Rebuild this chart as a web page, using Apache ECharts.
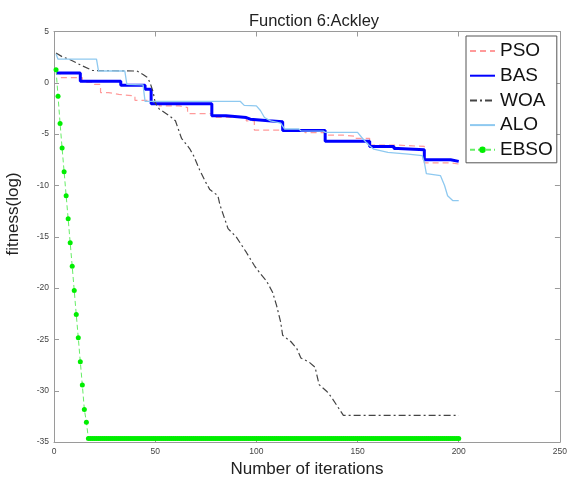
<!DOCTYPE html>
<html><head><meta charset="utf-8">
<script src="https://cdn.jsdelivr.net/npm/echarts/dist/echarts.min.js"></script>
<style>html,body{margin:0;padding:0;background:#fff}#c{width:570px;height:483px}</style>
</head><body><div id="c"></div>
<script>
// ---------- data ----------
const seriesNames = ['PSO', 'BAS', 'WOA', 'ALO', 'EBSO'];
const titleText = 'Function 6:Ackley';
const xName = 'Number of iterations';
const yName = 'fitness(log)';

const psoIter = [1, 3, 14, 20, 23, 27, 32, 40, 48, 52, 62, 66, 78, 95, 99, 124, 134, 143, 149, 156, 170, 183, 196, 200];
const psoFit  = [1.0, 0.5, 0.05, -0.15, -0.95, -1.12, -1.28, -1.7, -2.0, -2.25, -2.41, -3.0, -3.38, -3.7, -4.6, -4.85, -5.1, -5.2, -5.42, -6.07, -6.2, -7.8, -7.91, -7.91];

const basIter = [1, 13, 33, 45, 48, 78, 85, 95, 97, 106, 113, 134, 156, 168, 170, 183, 196, 200];
const basFit  = [0.95, 0.15, -0.24, -0.63, -2.05, -3.2, -3.38, -3.54, -3.7, -3.8, -4.65, -5.7, -6.2, -6.4, -6.52, -7.5, -7.65, -7.65];

const woaIter = [1, 4, 8, 14, 19, 41, 44, 46, 47, 48, 49, 50, 52, 57, 60, 63, 67, 69, 72, 75, 77, 81, 82, 86, 90, 95, 99, 102, 105, 108, 110, 112, 113, 117, 120, 122, 126, 129, 131, 135, 137, 140, 143, 200];
const woaFit  = [2.9, 2.55, 2.25, 1.65, 1.2, 1.15, 0.82, 0.55, 0.2, -0.3, -0.9, -1.95, -2.55, -3.2, -3.7, -5.4, -6.4, -7.1, -8.5, -9.7, -10.4, -11.0, -11.9, -14.2, -15.0, -16.5, -17.8, -18.6, -19.3, -20.4, -21.7, -23.3, -24.6, -25.2, -25.9, -26.8, -27.2, -27.7, -29.4, -30.1, -30.6, -31.5, -32.4, -32.4];

const aloIter = [1, 2, 21, 22, 35, 36, 44, 45, 92, 94, 100, 102, 104, 107, 112, 114, 121, 122, 133, 134, 150, 152, 155, 158, 165, 175, 182, 183, 184, 191, 193, 194.5, 197, 200];
const aloFit  = [2.8, 2.3, 2.3, 1.15, 1.15, -0.15, -0.2, -1.8, -1.8, -2.2, -2.25, -2.7, -3.38, -3.7, -3.93, -4.5, -4.5, -4.68, -4.7, -4.83, -4.83, -5.3, -5.97, -6.46, -6.78, -6.94, -7.1, -7.75, -8.85, -9.05, -10.0, -11.0, -11.47, -11.47];

// EBSO: one value per iteration 1..200
const ebsoFit = [
  1.28, -1.31, -3.96, -6.36, -8.66, -10.99, -13.25, -15.58, -17.88, -20.24, -22.57, -24.83, -27.17, -29.44, -31.83, -33.06,
  -34.65, -34.65, -34.65, -34.65, -34.65, -34.65, -34.65, -34.65, -34.65, -34.65, -34.65, -34.65, -34.65, -34.65, -34.65, -34.65, -34.65, -34.65, -34.65, -34.65, -34.65, -34.65, -34.65,
  -34.65, -34.65, -34.65, -34.65, -34.65, -34.65, -34.65, -34.65, -34.65, -34.65, -34.65, -34.65, -34.65, -34.65, -34.65, -34.65, -34.65, -34.65, -34.65, -34.65, -34.65, -34.65, -34.65,
  -34.65, -34.65, -34.65, -34.65, -34.65, -34.65, -34.65, -34.65, -34.65, -34.65, -34.65, -34.65, -34.65, -34.65, -34.65, -34.65, -34.65, -34.65, -34.65, -34.65, -34.65, -34.65, -34.65,
  -34.65, -34.65, -34.65, -34.65, -34.65, -34.65, -34.65, -34.65, -34.65, -34.65, -34.65, -34.65, -34.65, -34.65, -34.65, -34.65, -34.65, -34.65, -34.65, -34.65, -34.65, -34.65, -34.65,
  -34.65, -34.65, -34.65, -34.65, -34.65, -34.65, -34.65, -34.65, -34.65, -34.65, -34.65, -34.65, -34.65, -34.65, -34.65, -34.65, -34.65, -34.65, -34.65, -34.65, -34.65, -34.65, -34.65,
  -34.65, -34.65, -34.65, -34.65, -34.65, -34.65, -34.65, -34.65, -34.65, -34.65, -34.65, -34.65, -34.65, -34.65, -34.65, -34.65, -34.65, -34.65, -34.65, -34.65, -34.65, -34.65, -34.65,
  -34.65, -34.65, -34.65, -34.65, -34.65, -34.65, -34.65, -34.65, -34.65, -34.65, -34.65, -34.65, -34.65, -34.65, -34.65, -34.65, -34.65, -34.65, -34.65, -34.65, -34.65, -34.65, -34.65,
  -34.65, -34.65, -34.65, -34.65, -34.65, -34.65, -34.65, -34.65, -34.65, -34.65, -34.65, -34.65, -34.65, -34.65, -34.65, -34.65, -34.65, -34.65, -34.65, -34.65, -34.65, -34.65, -34.65
];

const xMin = 0, xMax = 250, xStep = 50;
const yMin = -35, yMax = 5, yStep = 5;

// ---------- chart ----------
const FONT = '"Liberation Sans", Arial, Helvetica, sans-serif';
const pair = (xs, ys) => xs.map((x, i) => [x, ys[i]]);
const ebsoData = ebsoFit.map((v, i) => [i + 1, v]);

const frame = '#9a9a9a';
const axisBase = (pos, showLabel) => ({
  type: 'value', position: pos,
  axisLine: { show: true, onZero: false, lineStyle: { color: frame, width: 1 } },
  axisTick: { show: true, inside: true, length: 5, lineStyle: { color: frame } },
  axisLabel: { show: showLabel, fontSize: 8.5, color: '#444', fontFamily: FONT, margin: 5 },
  splitLine: { show: false }
});

const chart = echarts.init(document.getElementById('c'), null, { renderer: 'canvas' });
chart.setOption({
  animation: false,
  backgroundColor: '#fff',
  title: {
    text: titleText, left: 309, top: 8, textAlign: 'center',
    textStyle: { fontSize: 16.5, fontWeight: 'normal', color: '#222', fontFamily: FONT }
  },
  grid: { left: 54, right: 6, top: 31.5, bottom: 39, containLabel: false },
  xAxis: [
    Object.assign(axisBase('bottom', true), {
      min: xMin, max: xMax, interval: xStep,
      name: xName, nameLocation: 'middle', nameGap: 14,
      nameTextStyle: { fontSize: 17, color: '#222', fontFamily: FONT }
    }),
    Object.assign(axisBase('top', false), { min: xMin, max: xMax, interval: xStep })
  ],
  yAxis: [
    Object.assign(axisBase('left', true), { min: yMin, max: yMax, interval: yStep }),
    Object.assign(axisBase('right', false), { min: yMin, max: yMax, interval: yStep })
  ],
  graphic: [{
    type: 'text', x: 13, y: 214, rotation: Math.PI / 2,
    style: { text: yName, fontSize: 17, fill: '#222', fontFamily: FONT, align: 'center', verticalAlign: 'middle' }
  }],
  legend: {
    orient: 'vertical', left: 466, top: 36,
    itemWidth: 25, itemHeight: 8, itemGap: 4.7,
    padding: [5, 4, 3, 3],
    borderColor: '#555', borderWidth: 1, backgroundColor: '#fff',
    textStyle: { fontSize: 19, color: '#111', fontFamily: FONT, lineHeight: 20 },
    data: seriesNames.map((n, i) => i < 4 ? { name: n, itemStyle: { opacity: 0 } } : { name: n, itemStyle: { opacity: 1 } })
  },
  series: [
    { name: seriesNames[0], type: 'line', step: 'end', data: pair(psoIter, psoFit), symbol: 'none',
      lineStyle: { color: '#ff9a9a', width: 1.2, type: [6, 4] }, itemStyle: { color: '#ff9a9a' } },
    { name: seriesNames[1], type: 'line', step: 'end', data: pair(basIter, basFit), symbol: 'none',
      lineStyle: { color: '#0000ff', width: 3 }, itemStyle: { color: '#0000ff' } },
    { name: seriesNames[2], type: 'line', data: pair(woaIter, woaFit), symbol: 'none',
      lineStyle: { color: '#444', width: 1.2, type: [7, 3, 2, 3] }, itemStyle: { color: '#444' } },
    { name: seriesNames[3], type: 'line', data: pair(aloIter, aloFit), symbol: 'none',
      lineStyle: { color: '#8ec9f0', width: 1.3 }, itemStyle: { color: '#8ec9f0' } },
    { name: seriesNames[4], type: 'line', data: ebsoData, symbol: 'circle', symbolSize: 5, showSymbol: true,
      lineStyle: { color: '#66ee66', width: 1, type: [5, 3] }, itemStyle: { color: '#00ee00' } }
  ]
});
</script>
</body></html>
